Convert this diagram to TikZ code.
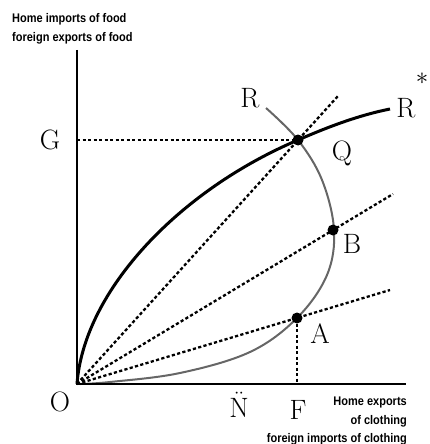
\documentclass[tikz,border=0pt]{standalone}
\usepackage{fontspec}
\newfontfamily\labfont[FakeStretch=0.88]{Liberation Sans}
\begin{document}
\begin{tikzpicture}[x=1pt,y=-1pt,
  axis/.style={line width=1.8pt, line join=miter},
  thickc/.style={line width=3pt},
  grayc/.style={line width=2pt, draw=black!60},
  guide/.style={line width=2.3pt, dash pattern=on 3.2pt off 2.3pt},
  pt/.style={circle, fill=black, inner sep=0pt, minimum size=11pt},
  lbl/.style={font=\fontsize{28}{28}\selectfont, inner sep=0pt},
  small/.style={font=\labfont\bfseries\fontsize{12.5}{12.5}\selectfont, inner sep=0pt}]
\useasboundingbox (0,0) rectangle (429,444);
% axes
\coordinate (O) at (77,384);
\coordinate (ytop) at (77,50);
\coordinate (xend) at (406,384);
% points
\coordinate (Qc) at (298,140);
\coordinate (Bc) at (333,230);
\coordinate (Ac) at (297,318);
\coordinate (Gy) at (77,140);
\coordinate (Fx) at (297,384);
\coordinate (rq) at (338,96);
\coordinate (rb) at (393,194);
\coordinate (ra) at (390,290);
\coordinate (Rtop) at (266,108);
\coordinate (Rend) at (390,109);
% guides
\draw[guide] (O) -- (rq);
\draw[guide] (O) -- (rb);
\draw[guide] (O) -- (ra);
\draw[guide] (Gy) -- (Qc);
\draw[guide] (Ac) -- (Fx);
% gray offer curve
\draw[grayc] plot[smooth, tension=0.6] coordinates {(266,108) (298,140) (322,180) (334,230) (327,275) (297,318) (250,352) (180,373) (110,382) (80,384)};
% thick offer curve
\draw[thickc] (O) .. controls (84,290) and (180,190) .. (Qc) .. controls (330,126) and (360,115) .. (Rend);
\draw[axis] (ytop) -- (O) -- (xend);
% dots
\node[pt] (Q) at (Qc) {};
\node[pt] (B) at (Bc) {};
\node[pt] (A) at (Ac) {};
% labels
\node[lbl] (Rl) at (250,98) {R};
\node[lbl] (Rs) at (406,108) {R};
\node[font=\fontsize{26}{26}\selectfont, inner sep=0pt] (star) at (422,79) {$\ast$};
\node[lbl] (Gl) at (50,140) {G};
\node[lbl] (Ql) at (342,153) {Q};
\node[lbl] (Bl) at (352,244) {B};
\node[lbl] (Al) at (320,334) {A};
\node[lbl] (Ol) at (60,402) {O};
\node[lbl] (Nl) at (239,405) {$\ddot{\mathrm{N}}$};
\node[lbl] (Fl) at (298,410) {F};
\node[small, anchor=west] (t1) at (12,19) {Home imports of food};
\node[small, anchor=west] (t2) at (12,38) {foreign exports of food};
\node[small, anchor=east] (b1) at (407,402) {Home exports};
\node[small, anchor=east] (b2) at (407,421) {of clothing};
\node[small, anchor=east] (b3) at (407,439) {foreign imports of clothing};
\end{tikzpicture}
\end{document}
